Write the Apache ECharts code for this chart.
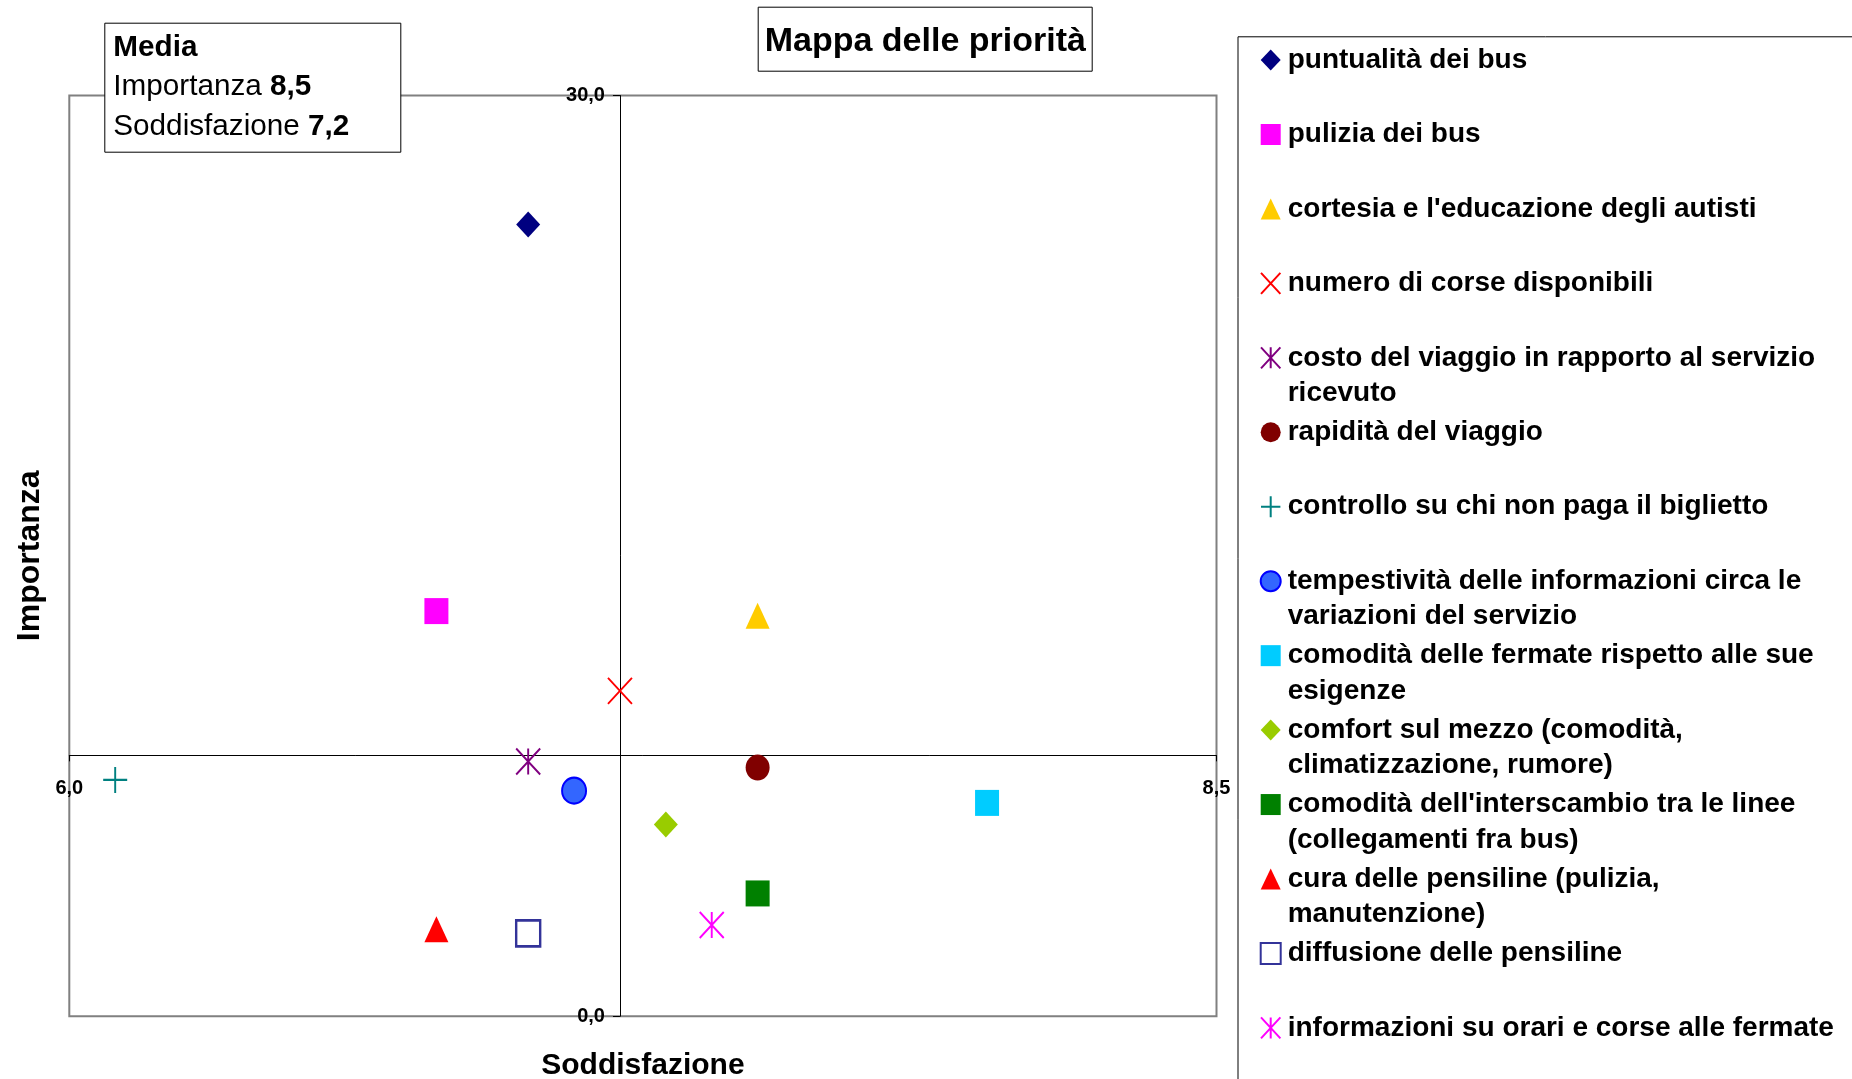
<!DOCTYPE html>
<html><head><meta charset="utf-8">
<script src="https://cdn.jsdelivr.net/npm/echarts@6/dist/echarts.min.js"></script>
<style>html,body{margin:0;padding:0;background:#fff}#c{width:1852px;height:1079px}</style>
</head><body><div id="c"></div>
<script>
// ---- data ----
const categories = [
  'puntualità dei bus',
  'pulizia dei bus',
  "cortesia e l'educazione degli autisti",
  'numero di corse disponibili',
  'costo del viaggio in rapporto al servizio\nricevuto',
  'rapidità del viaggio',
  'controllo su chi non paga il biglietto',
  'tempestività delle informazioni circa le\nvariazioni del servizio',
  'comodità delle fermate rispetto alle sue\nesigenze',
  'comfort sul mezzo (comodità,\nclimatizzazione, rumore)',
  "comodità dell'interscambio tra le linee\n(collegamenti fra bus)",
  'cura delle pensiline (pulizia,\nmanutenzione)',
  'diffusione delle pensiline',
  'informazioni su orari e corse alle fermate'
];
const soddisfazione = [7.0, 6.8, 7.5, 7.2, 7.0, 7.5, 6.1, 7.1, 8.0, 7.3, 7.5, 6.8, 7.0, 7.4];
const importanza    = [25.8, 13.2, 13.05, 10.6, 8.3, 8.1, 7.7, 7.35, 6.95, 6.25, 4.0, 2.83, 2.7, 2.97];
const xRange = [6.0, 8.5];
const yRange = [0, 30];
const mediaImportanza = 8.5;
const mediaSoddisfazione = 7.2;

// ---- layout / styles ----
const W = 1852, H = 1079;
const GRID = {left: 69.3, right: 635.5, top: 95.5, bottom: 62.8};
const gridW = W - GRID.left - GRID.right;
const gridH = H - GRID.top - GRID.bottom;
// the two crossing axes sit on the mean values
const xAxisOffset = -(mediaImportanza - yRange[0]) / (yRange[1] - yRange[0]) * gridH;
const yAxisOffset = -(mediaSoddisfazione - xRange[0]) / (xRange[1] - xRange[0]) * gridW;

const P_X = 'path://M0,0L24,26M24,0L0,26';
const P_STAR = 'path://M0,0L24,26M24,0L0,26M12,0L12,26';
const P_PLUS = 'path://M12,0L12,26M0,13L24,13';
const markerStyles = [
  {symbol:'diamond', color:'#000080'},
  {symbol:'rect', color:'#FF00FF'},
  {symbol:'triangle', color:'#FFCC00'},
  {symbol:P_X, color:'#FF0000', borderColor:'#FF0000', borderWidth:2},
  {symbol:P_STAR, color:'#800080', borderColor:'#800080', borderWidth:2},
  {symbol:'circle', color:'#800000'},
  {symbol:P_PLUS, color:'#008080', borderColor:'#008080', borderWidth:2},
  {symbol:'circle', color:'#3366FF', borderColor:'#0000FF', borderWidth:2},
  {symbol:'rect', color:'#00CCFF'},
  {symbol:'diamond', color:'#99CC00'},
  {symbol:'rect', color:'#008000'},
  {symbol:'triangle', color:'#FF0000'},
  {symbol:'rect', color:'#FFFFFF', borderColor:'#333399', borderWidth:2.5},
  {symbol:P_STAR, color:'#FF00FF', borderColor:'#FF00FF', borderWidth:2}
];
const FONT = "'Liberation Sans', Arial, Helvetica, sans-serif";
const fmt = v => v.toFixed(1).replace('.', ',');
const firstLine = n => n.split('\n')[0];
const secondLine = n => n.split('\n')[1] || ' ';

const series = categories.map((name, i) => ({
  type: 'scatter',
  name: name,
  xAxisIndex: 0, yAxisIndex: 0,
  data: [[soddisfazione[i], importanza[i]]],
  symbol: markerStyles[i].symbol,
  symbolSize: [24, 26],
  itemStyle: {
    color: markerStyles[i].color,
    borderColor: markerStyles[i].borderColor || markerStyles[i].color,
    borderWidth: markerStyles[i].borderWidth || 0,
    opacity: 1
  },
  emphasis: {disabled: true},
  z: 3
}));

const legendText = {fontFamily: FONT, fontSize: 28, fontWeight: 'bold', color: '#000',
  lineHeight: 35.5, backgroundColor: 'transparent', padding: [0, 0, 0, 2]};
const wrapped = categories.slice(4, 12);
const hiddenAxis = {axisLine: {show: false, onZero: false}, axisTick: {show: false},
  axisLabel: {show: false}, splitLine: {show: false}, nameLocation: 'middle'};

const chart = echarts.init(document.getElementById('c'), null, {renderer: 'canvas'});
chart.setOption({
  animation: false,
  backgroundColor: '#fff',
  title: [
    {text: 'Mappa delle priorità', left: 757.7, top: 6.7, padding: [14, 7, 10, 7],
     borderColor: '#000', borderWidth: 1, backgroundColor: '#fff',
     textStyle: {fontFamily: FONT, fontSize: 34, fontWeight: 'bold', color: '#000', lineHeight: 41}},
    {text: '{b|Media}\n{n|Importanza }{b|' + fmt(mediaImportanza) + '}\n{n|Soddisfazione }{b|' + fmt(mediaSoddisfazione) + '}',
     left: 105, top: 22.7, padding: [5, 52, 6.5, 8.3],
     borderColor: '#000', borderWidth: 1, backgroundColor: '#fff',
     textStyle: {fontFamily: FONT, fontSize: 29.7, lineHeight: 39.5, color: '#000',
       rich: {b: {fontFamily: FONT, fontSize: 29.7, fontWeight: 'bold', lineHeight: 39.5, color: '#000'},
              n: {fontFamily: FONT, fontSize: 29.7, fontWeight: 'normal', lineHeight: 39.5, color: '#000'}}}}
  ],
  legend: [
    {orient: 'vertical', left: 1238, top: 36.8, height: 1200,
     padding: [5.5, 100, 100, 21.7], itemWidth: 20, itemHeight: 21, itemGap: 38.95,
     borderColor: '#000', borderWidth: 1,
     data: categories.map((n, i) => ({name: n, icon: markerStyles[i].symbol})),
     formatter: firstLine, textStyle: legendText},
    {orient: 'vertical', left: 1238, top: 375.6, height: 1200,
     padding: [0, 0, 0, 21.7], itemWidth: 20, itemHeight: 21, itemGap: 38.95,
     selectedMode: false, itemStyle: {opacity: 0},
     data: wrapped.map(n => ({name: n, icon: 'rect'})),
     formatter: secondLine, textStyle: legendText}
  ],
  grid: {left: GRID.left, right: GRID.right, top: GRID.top, bottom: GRID.bottom, show: true,
         borderColor: '#808080', borderWidth: 2, backgroundColor: 'transparent',
         outerBoundsMode: 'none', containLabel: false},
  xAxis: [
    {type: 'value', min: xRange[0], max: xRange[1], interval: xRange[1] - xRange[0],
     position: 'bottom', offset: xAxisOffset,
     axisLine: {show: true, onZero: false, lineStyle: {color: '#000', width: 1}},
     axisTick: {show: true, length: 6, lineStyle: {color: '#000', width: 1}},
     axisLabel: {show: true, formatter: fmt, fontFamily: FONT, fontSize: 20, fontWeight: 'bold', color: '#000',
                 margin: 33, verticalAlign: 'middle', showMinLabel: true, showMaxLabel: true, hideOverlap: false},
     splitLine: {show: false}},
    Object.assign({type: 'value', min: xRange[0], max: xRange[1], position: 'bottom',
     name: 'Soddisfazione', nameGap: 50,
     nameTextStyle: {fontFamily: FONT, fontSize: 30, fontWeight: 'bold', color: '#000', verticalAlign: 'middle'}}, hiddenAxis)
  ],
  yAxis: [
    {type: 'value', min: yRange[0], max: yRange[1], interval: yRange[1] - yRange[0],
     position: 'left', offset: yAxisOffset,
     axisLine: {show: true, onZero: false, lineStyle: {color: '#000', width: 1}},
     axisTick: {show: true, length: 7, lineStyle: {color: '#000', width: 1}},
     axisLabel: {show: true, formatter: fmt, fontFamily: FONT, fontSize: 20, fontWeight: 'bold', color: '#000',
                 margin: 15, showMinLabel: true, showMaxLabel: true, hideOverlap: false},
     splitLine: {show: false}},
    Object.assign({type: 'value', min: yRange[0], max: yRange[1], position: 'left',
     name: 'Importanza', nameGap: 39.3,
     nameTextStyle: {fontFamily: FONT, fontSize: 32, fontWeight: 'bold', color: '#000', verticalAlign: 'middle'}}, hiddenAxis)
  ],
  series: series
});
</script></body></html>
